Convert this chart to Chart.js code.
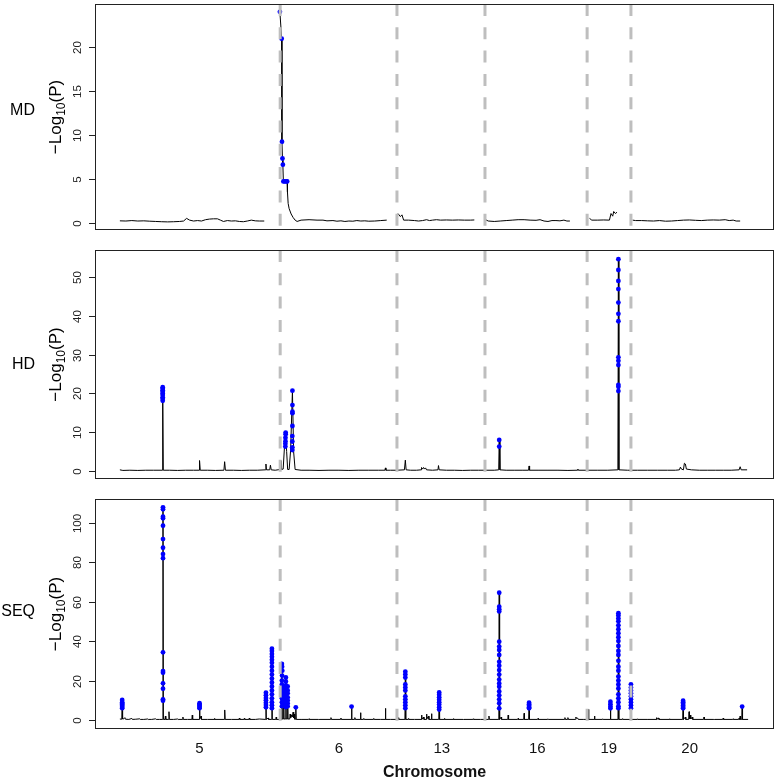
<!DOCTYPE html>
<html>
<head>
<meta charset="utf-8">
<script src="https://cdn.jsdelivr.net/npm/chart.js@4.4.1/dist/chart.umd.min.js"></script>
<style>
html, body { margin: 0; padding: 0; background: #fff; }
body { width: 778px; height: 782px; position: relative; overflow: hidden; }
canvas { position: absolute; left: 0; }
</style>
</head>
<body>
<canvas id="mdChart" width="778" height="240" style="top:0px"></canvas>
<canvas id="hdChart" width="778" height="250" style="top:240px"></canvas>
<canvas id="seqChart" width="778" height="292" style="top:490px"></canvas>
<script>
// genome position (cumulative, arbitrary units) of chromosome centres / boundaries
const chromLabels = ["5", "6", "13", "16", "19", "20"];
const chromCenters = [80, 220, 323.3, 419.3, 491, 572.3];
const chromBreaks = [161, 278.3, 366.7, 469.3, 513.3];

const mdTicks = [0, 5, 10, 15, 20];
const hdTicks = [0, 10, 20, 30, 40, 50];
const seqTicks = [0, 20, 40, 60, 80, 100];

// MD: -log10(P) trace, null = gap
const mdLine = [
  [0,0.22],[6,0.2],[12,0.25],[18,0.2],[24,0.22],[30,0.18],[36,0.15],[42,0.12],[48,0.1],[54,0.12],
  [60,0.15],[64,0.2],[67,0.5],[70,0.3],[74,0.2],[78,0.25],[82,0.2],[86,0.35],[90,0.42],[94,0.45],
  [98,0.45],[101,0.3],[104,0.15],[108,0.25],[112,0.2],[116,0.22],[120,0.15],[124,0.12],[128,0.2],
  [132,0.3],[136,0.22],[140,0.2],[145,0.2],[152,null],
  [160.7,23.95],[162.5,20.9],[162.7,15],[162.8,9.2],[163.3,7.3],[163.7,6.6],[164.2,4.7],[166,4.7],
  [168,4.7],[168.3,3.5],[169,2.2],[170,1.6],[172,1.0],[174,0.6],[176,0.3],[178,0.15],[182,0.3],
  [190,0.35],[198,0.3],[204,0.3],[208,0.22],[214,0.25],[218,0.18],[222,0.22],[226,0.15],[230,0.2],
  [234,0.18],[238,0.25],[242,0.2],[246,0.22],[250,0.18],[256,0.2],[262,0.25],[268,0.3],[273,null],
  [279.3,1.05],[281.7,0.7],[283.3,0.9],[285,0.3],[290,0.3],[296,0.25],[300,0.2],[304,0.25],[308,0.35],
  [311,0.25],[314,0.3],[318,0.35],[322,0.3],[328,0.32],[334,0.3],[340,0.32],[346,0.3],[352,0.3],
  [356,0.32],[361,null],
  [367.3,0.35],[370,0.2],[376,0.15],[382,0.2],[388,0.25],[394,0.3],[400,0.35],[406,0.35],[412,0.3],
  [418,0.28],[422,0.35],[426,0.2],[430,0.15],[434,0.25],[438,0.25],[442,0.22],[446,0.3],[449,0.2],
  [452,0.2],[460,null],
  [471.7,0.5],[474,0.3],[480,0.3],[486,0.32],[491.7,0.3],[493.3,1.05],[495,0.75],[496,1.28],
  [497.7,1.05],[499.3,1.2],[506,null],
  [515,0.3],[518,0.25],[524,0.25],[530,0.22],[536,0.2],[542,0.25],[548,0.18],[554,0.2],[560,0.25],
  [566,0.3],[572,0.32],[578,0.28],[584,0.25],[590,0.3],[596,0.32],[602,0.3],[608,0.35],[612,0.25],
  [616,0.3],[619,0.2],[623,0.2]
];
const mdHits = [
  [160.7,23.95],[162.5,20.9],[162.8,9.2],[163.3,7.3],[163.7,6.6],[164.2,4.7],[165.5,4.7],[167,4.7],[168,4.7]
];

// HD
const hdLine = [
  [0,0.3],[3,0.15],[10,0.2],[18,0.15],[26,0.2],[34,0.2],[42.6,0.2],[43,21.6],[43.6,0.2],[50,0.2],
  [58,0.15],[66,0.2],[74,0.2],[79.5,0.2],[80,2.7],[80.7,0.2],[88,0.2],[96,0.15],[104.5,0.2],
  [105.2,2.4],[106,0.2],[114,0.2],[122,0.15],[130,0.2],[138,0.2],[146.2,0.3],[146.7,1.8],[147.2,0.3],
  [150.5,0.3],[151.2,1.5],[152,0.3],[156,0.2],[161,0.4],[161.7,2.7],[162.3,0.4],[164,0.5],[165.5,7],
  [166.5,9.9],[167.5,5],[168.5,0.4],[170,0.4],[171.5,5.4],[173.3,20.7],[174.5,5],[176,0.4],[182,0.2],
  [190,0.2],[200,0.15],[210,0.2],[220,0.2],[230,0.15],[240,0.2],[250,0.2],[260,0.2],[266.2,0.2],
  [266.7,0.8],[267.2,0.2],[272,0.2],[278,0.2],[285.8,0.3],[286.7,2.8],[287.5,0.3],[292,0.2],[298,0.2],
  [302.5,0.3],[303,0.9],[304,0.5],[305,0.9],[306,0.5],[307,0.8],[308,0.3],[314,0.2],[319.5,0.3],
  [320,1.4],[320.7,0.3],[328,0.2],[336,0.2],[344,0.15],[352,0.2],[360,0.2],[368,0.2],[376,0.2],
  [380.5,0.3],[381,8.0],[381.7,0.3],[388,0.2],[396,0.2],[404,0.2],[410.5,0.2],[411,1.3],[411.5,0.2],
  [420,0.2],[430,0.2],[440,0.2],[450,0.15],[459.5,0.2],[460,0.5],[460.5,0.2],[470,0.2],[480,0.2],
  [490,0.2],[500.2,0.3],[500.7,54.6],[501.2,0.3],[510,0.2],[520,0.2],[530,0.2],[540,0.2],[550,0.2],
  [558,0.2],[562,0.3],[563,1.0],[564,0.5],[566,0.3],[567,2.0],[568,1.8],[569,0.5],[574,0.3],[582,0.2],
  [590,0.2],[598,0.2],[606,0.2],[614,0.2],[622,0.3],[623,1.1],[624,0.3],[630,0.3]
];
const hdHits = [
  [43,21.6],[43,21.2],[43,20.8],[43,20.4],[43,20.0],[43,19.6],[43,19.0],[43,18.6],[43,18.1],
  [166.5,9.9],[166.5,9.5],[166.3,8.6],[166.3,7.7],[166.2,7.0],[166.2,6.3],
  [173.3,20.7],[173.3,17.0],[173.3,15.3],[173.3,14.9],[173.3,11.6],[173.2,9.0],[173.2,7.6],[173.2,6.1],[173.2,5.4],
  [381,8.0],[381,6.3],
  [500.7,54.6],[500.7,51.8],[500.7,49.0],[500.7,46.9],[500.7,43.4],[500.7,40.5],[500.7,38.6],
  [500.7,29.3],[500.7,28.4],[500.7,27.3],[500.7,22.2],[500.7,21.7],[500.7,20.6]
];

// SEQ
const seqLine = [
  [0,0.5],[1.9,0.4],[2.3,10.5],[2.7,0.5],[4,0.6],[5,1.2],[5.6,0.4],[9,0.3],[12,0.8],[12.5,0.3],
  [16,0.4],[20,0.6],[20.5,0.3],[24,0.3],[28,0.5],[28.5,0.3],[32,0.3],[36,0.6],[36.5,0.3],[40,0.3],
  [42.9,0.3],[43.3,107.8],[43.7,0.3],[45.3,0.3],[45.7,2.0],[46.1,0.3],[48.9,0.3],[49.3,4.2],[49.7,0.3],
  [54,0.3],[58,0.5],[58.5,0.3],[62.9,0.3],[63.3,1.5],[63.7,0.3],[68,0.3],[72.3,0.3],[72.7,2.5],
  [73.1,0.3],[79.6,0.3],[80,8.5],[80.4,0.5],[81.5,2.0],[82,0.3],[88,0.3],[94.6,0.3],[95,0.8],
  [95.4,0.3],[104.9,0.3],[105.3,5.1],[105.7,0.3],[112,0.3],[119.6,0.3],[120,1.0],[120.4,0.3],
  [124.6,0.3],[125,0.8],[125.4,0.3],[129.6,0.3],[130,1.0],[130.4,0.3],[136,0.3],[140,0.5],[146.3,0.3],
  [146.7,13.8],[147.1,0.3],[149,1.0],[149.4,0.3],[152.3,0.3],[152.7,36.1],[153.1,0.3],[156.6,0.3],
  [157,1.5],[157.4,0.3],[162.3,0.3],[162.7,28.4],[163.1,0.5],[164.1,0.5],[164.5,17.0],[164.9,0.5],
  [166.3,0.5],[166.7,21.6],[167.1,0.5],[168.1,0.5],[168.5,17.0],[168.9,0.5],[170.6,0.5],[171,3.0],
  [171.6,1.2],[172.5,2.5],[173.2,1.5],[174,4.0],[174.6,1.0],[175,3.0],[175.6,0.4],[176.3,0.4],
  [176.7,6.4],[177.1,0.3],[182,0.3],[189.6,0.3],[190,0.6],[190.4,0.3],[199.6,0.3],[200,0.5],
  [200.4,0.3],[211.6,0.3],[212,1.2],[212.4,0.3],[221.6,0.3],[222,1.0],[222.4,0.3],[232.3,0.3],
  [232.7,6.8],[233.1,0.3],[235.6,0.3],[236,1.2],[236.4,0.3],[241.3,0.3],[241.7,3.7],[242.1,0.3],
  [244.6,0.3],[245,0.8],[245.4,0.3],[254.6,0.3],[255,0.8],[255.4,0.3],[262,0.3],[266.3,0.3],
  [266.7,5.9],[267.1,0.3],[272,0.3],[279.6,0.3],[280,1.2],[280.4,0.3],[286.3,0.3],[286.7,24.5],
  [287.1,0.3],[289.6,0.3],[290,0.8],[290.4,0.3],[296,0.3],[302.6,0.3],[303,2.5],[303.4,0.3],[305,1.5],
  [305.4,0.3],[307.6,0.3],[308,3.0],[308.4,0.5],[310,2.0],[310.4,0.3],[312.6,0.3],[313,3.2],[313.4,0.3],
  [320.3,0.3],[320.7,14.0],[321.1,0.3],[325.6,0.3],[326,0.8],[326.4,0.3],[334.6,0.3],[335,0.7],
  [335.4,0.3],[344.6,0.3],[345,0.5],[345.4,0.3],[354.6,0.3],[355,0.6],[355.4,0.3],[362,0.3],
  [370.3,0.3],[370.7,2.0],[371.1,0.3],[380.6,0.3],[381,64.5],[381.4,0.3],[383,1.5],[383.4,0.3],
  [389.6,0.3],[390,2.5],[390.4,0.3],[399.6,0.3],[400,0.8],[400.4,0.3],[405.6,0.3],[406,3.4],
  [406.4,0.3],[410.6,0.3],[411,8.8],[411.4,0.3],[419.6,0.3],[420,0.8],[420.4,0.3],[429.6,0.3],
  [430,0.6],[430.4,0.3],[446.6,0.3],[447,1.2],[447.4,0.3],[449.6,0.3],[450,1.2],[450.4,0.3],
  [457.6,0.3],[458,1.5],[458.5,0.9],[460,0.9],[460.4,0.3],[466,0.3],[470.3,0.3],[470.7,5.4],
  [471.1,0.3],[476.3,0.3],[476.7,2.0],[477.1,0.3],[484.6,0.3],[485,0.6],[485.4,0.3],[492.3,0.3],
  [492.7,9.3],[493.1,0.3],[500.3,0.3],[500.7,54.1],[501.1,0.3],[504.6,0.3],[505,0.7],[505.4,0.3],
  [512.9,0.3],[513.3,18.1],[513.7,0.3],[519.6,0.3],[520,0.6],[520.4,0.3],[529.6,0.3],[530,0.5],
  [530.4,0.3],[538.6,0.3],[539,1.2],[539.4,0.3],[541,1.0],[541.4,0.3],[551.6,0.3],[552,0.6],
  [552.4,0.3],[565.3,0.3],[565.7,9.8],[566.1,0.3],[568,1.5],[568.4,0.3],[571.3,0.3],[571.7,4.2],
  [572.1,0.5],[573,2.5],[573.4,0.5],[575,1.5],[575.4,0.3],[586.3,0.3],[586.7,1.5],[587.1,0.3],
  [596.6,0.3],[597,0.5],[597.4,0.3],[605.6,0.3],[606,1.0],[606.4,0.3],[615.6,0.3],[616,0.6],
  [616.4,0.3],[621.6,0.3],[622,1.0],[622.4,0.3],[623,2.0],[623.4,0.3],[624.6,0.3],[625,6.8],
  [625.4,0.3],[631,0.3]
];
const seqHits = [
  [2.3,10.2],[2.3,9.0],[2.3,8.4],[2.3,7.8],[2.3,7.2],[2.3,6.6],[2.3,6.0],
  [43.3,107.8],[43.3,106.8],[43.3,103.0],[43.3,102.2],[43.3,98.5],[43.3,91.7],[43.3,87.3],[43.3,84.1],
  [43.3,82.0],[43.3,34.3],[43.3,24.8],[43.3,24.0],[43.3,18.6],[43.3,15.9],[43.3,10.5],[43.3,9.8],
  [80,8.5],[80,7.8],[80,7.2],[80,6.6],[80,6.0],
  [146.7,13.8],[146.7,12.5],[146.7,11.2],[146.7,10.0],[146.7,8.8],[146.7,7.6],[146.7,6.4],
  [152.7,36.1],[152.7,35.0],[152.7,33.5],[152.7,32.0],[152.7,30.5],[152.7,29.0],[152.7,27.0],
  [152.7,25.0],[152.7,23.0],[152.7,21.0],[152.7,19.0],[152.7,17.0],[152.7,15.0],[152.7,13.0],
  [152.7,11.0],[152.7,9.0],[152.7,7.5],[152.7,6.0],
  [162.7,28.4],[162.9,27.0],[163.1,25.0],[162.9,22.5],[162.7,20.0],[162.7,18.0],[162.7,16.0],
  [162.7,14.5],[162.7,13.0],[162.7,11.0],[162.7,9.0],[162.7,7.0],
  [164.5,17.0],[164.5,15.0],[164.5,12.5],[164.5,10.0],[164.5,8.0],
  [166.7,21.6],[166.7,19.5],[166.7,17.5],[166.7,16.0],[166.7,14.0],[166.7,12.5],[166.7,11.0],
  [166.7,9.5],[166.7,8.0],[166.7,6.5],
  [168.5,17.0],[168.5,15.0],[168.5,13.5],[168.5,11.5],[168.5,10.0],[168.5,8.5],[168.5,7.0],
  [176.7,6.4],[232.7,6.8],
  [286.7,24.5],[286.7,23.0],[286.7,21.5],[286.7,18.0],[286.7,16.5],[286.7,15.0],[286.7,12.0],
  [286.7,10.5],[286.7,9.0],[286.7,7.5],[286.7,6.0],
  [320.7,14.0],[320.7,12.8],[320.7,11.5],[320.7,10.3],[320.7,9.0],[320.7,7.8],[320.7,6.5],[320.7,5.3],
  [381,64.5],[381,57.4],[381,56.1],[381,55.0],[381,39.7],[381,37.2],[381,35.5],[381,33.0],[381,29.5],
  [381,27.5],[381,25.3],[381,23.0],[381,20.5],[381,18.5],[381,16.9],[381,14.5],[381,12.5],[381,10.5],
  [381,8.5],[381,5.9],
  [411,8.8],[411,8.0],[411,7.2],[411,6.5],[411,5.9],
  [492.7,9.3],[492.7,8.0],[492.7,6.8],[492.7,5.9],
  [500.7,54.1],[500.7,53.0],[500.7,51.5],[500.7,50.0],[500.7,48.0],[500.7,46.0],[500.7,44.0],
  [500.7,42.0],[500.7,40.0],[500.7,37.5],[500.7,35.0],[500.7,33.0],[500.7,30.0],[500.7,27.0],
  [500.7,25.0],[500.7,22.0],[500.7,20.0],[500.7,18.0],[500.7,16.0],[500.7,13.0],[500.7,11.0],
  [500.7,9.0],[500.7,7.0],[500.7,6.0],
  [513.3,18.1],[513.3,16.5],[513.3,15.0],[513.3,13.5],[513.3,12.0],[513.3,10.5],[513.3,9.0],
  [513.3,7.5],[513.3,6.0],
  [565.7,9.8],[565.7,9.0],[565.7,8.2],[565.7,7.4],[565.7,6.6],[565.7,5.9],
  [625,6.8]
];

Chart.defaults.font.family = "'Liberation Sans', Arial, Helvetica, sans-serif";
Chart.defaults.color = "#000";

const FONT = "'Liberation Sans', Arial, Helvetica, sans-serif";

// frame, dashed chromosome borders, rotated y labels (R style)
const rFrame = {
  id: "rFrame",
  afterDatasetsDraw(chart) {
    const { ctx, chartArea: a } = chart;
    const x = chart.scales.x;
    ctx.save();
    ctx.beginPath();
    ctx.rect(a.left, a.top, a.right - a.left, a.bottom - a.top);
    ctx.clip();
    ctx.strokeStyle = "#bebebe";
    ctx.lineWidth = 3;
    ctx.setLineDash([12, 11.3]);
    chromBreaks.forEach(b => {
      const px = x.getPixelForValue(b);
      ctx.beginPath();
      ctx.moveTo(px, a.top);
      ctx.lineTo(px, a.bottom);
      ctx.stroke();
    });
    ctx.restore();
  },
  afterDraw(chart, args, opts) {
    const { ctx, chartArea: a } = chart;
    const y = chart.scales.y;
    ctx.save();
    ctx.strokeStyle = "#222";
    ctx.lineWidth = 1;
    ctx.strokeRect(a.left + 0.5, a.top + 0.5, a.right - a.left - 1, a.bottom - a.top - 1);

    ctx.fillStyle = "#222";
    ctx.font = "11.5px " + FONT;
    ctx.textAlign = "center";
    ctx.textBaseline = "alphabetic";
    y.ticks.forEach(t => {
      const py = Math.round(y.getPixelForValue(t.value)) + 0.5;
      ctx.beginPath();
      ctx.moveTo(a.left - 6, py);
      ctx.lineTo(a.left, py);
      ctx.stroke();
      ctx.save();
      ctx.translate(81, py);
      ctx.rotate(-Math.PI / 2);
      ctx.fillText(String(t.value), 0, 0);
      ctx.restore();
    });

    const mid = (a.top + a.bottom) / 2;
    // -Log10(P)
    ctx.fillStyle = "#000";
    const big = "17px " + FONT, small = "12px " + FONT;
    ctx.font = big;
    const w1 = ctx.measureText("\u2212Log").width;
    const w3 = ctx.measureText("(P)").width;
    ctx.font = small;
    const w2 = ctx.measureText("10").width;
    const total = w1 + w2 + w3;
    ctx.save();
    ctx.translate(61, mid);
    ctx.rotate(-Math.PI / 2);
    ctx.textAlign = "left";
    ctx.font = big;
    ctx.fillText("\u2212Log", -total / 2, 0);
    ctx.font = small;
    ctx.fillText("10", -total / 2 + w1, 4);
    ctx.font = big;
    ctx.fillText("(P)", -total / 2 + w1 + w2, 0);
    ctx.restore();

    // panel name
    ctx.font = "16px " + FONT;
    ctx.textAlign = "right";
    ctx.textBaseline = "middle";
    ctx.fillText(opts.label, 35, mid + (opts.labelDy || 0));
    ctx.restore();
  }
};

function pts(arr) {
  return arr.map(p => ({ x: p[0], y: p[1] }));
}

function makePanel(id, line, hits, yMin, yMax, yTicks, label, labelDy, padTop, padBottom, showX) {
  const xScale = {
    type: "linear",
    min: -25,
    max: 657,
    display: showX,
    grid: { display: false, drawTicks: false },
    border: { display: false }
  };
  if (showX) {
    xScale.afterBuildTicks = s => { s.ticks = chromCenters.map(v => ({ value: v })); };
    xScale.afterFit = s => { s.height = 53; };
    xScale.ticks = {
      autoSkip: false,
      maxRotation: 0,
      padding: 11,
      color: "#111",
      font: { size: 15 },
      callback: (v, i) => chromLabels[i]
    };
    xScale.title = {
      display: true,
      text: "Chromosome",
      color: "#111",
      font: { size: 16, weight: "bold" },
      padding: { top: 0, bottom: 0 }
    };
  }
  return new Chart(document.getElementById(id), {
    type: "scatter",
    data: {
      datasets: [
        {
          data: pts(hits),
          backgroundColor: "#0000ff",
          borderColor: "#0000ff",
          borderWidth: 0,
          pointRadius: 2.4,
          showLine: false
        },
        {
          data: pts(line),
          borderColor: "#000",
          borderWidth: 1,
          pointRadius: 0,
          showLine: true,
          spanGaps: false,
          tension: 0
        }
      ]
    },
    options: {
      responsive: false,
      animation: false,
      devicePixelRatio: 1,
      layout: { padding: { top: padTop, bottom: padBottom, left: 0, right: 1 } },
      plugins: {
        legend: { display: false },
        tooltip: { enabled: false },
        rFrame: { label: label, labelDy: labelDy }
      },
      scales: {
        x: xScale,
        y: {
          min: yMin,
          max: yMax,
          afterBuildTicks: s => { s.ticks = yTicks.map(v => ({ value: v })); },
          afterFit: s => { s.width = 95; },
          ticks: { display: false },
          grid: { display: false, drawTicks: false },
          border: { display: false }
        }
      }
    },
    plugins: [rFrame]
  });
}

makePanel("mdChart", mdLine, mdHits, -0.82, 24.84, mdTicks, "MD", -6, 2, 10, false);
makePanel("hdChart", hdLine, hdHits, -2.06, 56.96, hdTicks, "HD", 0, 10, 11, false);
makePanel("seqChart", seqLine, seqHits, -4.56, 112.0, seqTicks, "SEQ", -2, 9, 0, true);
</script>
</body>
</html>
